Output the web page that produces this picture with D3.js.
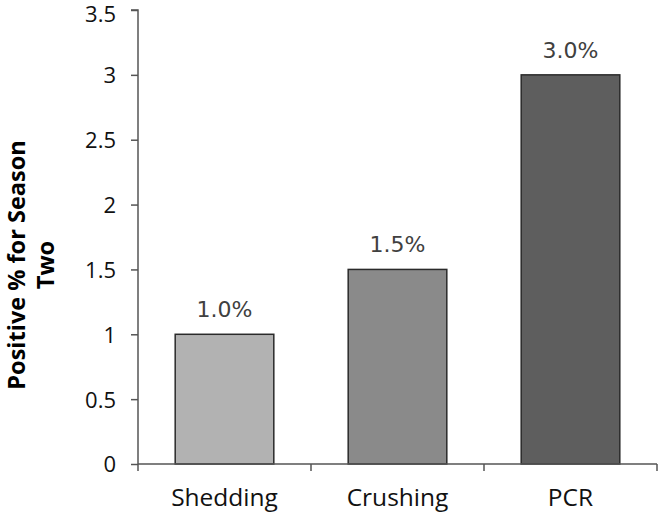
<!DOCTYPE html>
<html><head><meta charset="utf-8">
<script src="https://cdn.jsdelivr.net/npm/d3@7/dist/d3.min.js"></script>
<style>body{margin:0;background:#fff}svg{display:block}</style>
</head><body>
<svg id="c" width="661" height="515"></svg>
<script>
const categories = ["Shedding", "Crushing", "PCR"];
const values = [1.0, 1.5, 3.0];
const valueLabels = ["1.0%", "1.5%", "3.0%"];
const barColors = ["#b2b2b2", "#8a8a8a", "#5e5e5e"];
const yTicks = [0, 0.5, 1, 1.5, 2, 2.5, 3, 3.5];

(function () {
const svg = d3.select("#c");
const mLeft = 138, mRight = 657, mTop = 10, mBottom = 464;

const x = d3.scaleBand().domain(categories).range([mLeft, mRight]).paddingInner(0.43).paddingOuter(0.215);
const y = d3.scaleLinear().domain([0, 3.5]).range([mBottom, mTop]);

// y axis
const ya = svg.append("g").attr("transform", `translate(${mLeft},0)`)
  .call(d3.axisLeft(y).tickValues(yTicks).tickFormat(d => d3.format("")(d)).tickSize(7).tickPadding(15));
ya.select(".domain").attr("stroke", "#555").attr("stroke-width", 1.5).attr("d", `M-7,${mTop}H0V${mBottom}`);
ya.selectAll(".tick line").attr("stroke", "#555").attr("stroke-width", 1.5);
ya.selectAll(".tick text").attr("font-family", "Open Sans, sans-serif").attr("font-size", 22).attr("fill", "#111")
  .attr("dy", d => d === 3.5 ? "0.5em" : "0.36em");

// bars
svg.selectAll("rect.bar").data(categories).join("rect")
  .attr("class", "bar")
  .attr("x", d => x(d))
  .attr("width", x.bandwidth())
  .attr("y", (d, i) => y(values[i]))
  .attr("height", (d, i) => y(0) - y(values[i]))
  .attr("fill", (d, i) => barColors[i])
  .attr("stroke", "#2a2a2a").attr("stroke-width", 1.5);

// value labels
svg.selectAll("text.val").data(categories).join("text")
  .attr("class", "val")
  .attr("x", d => x(d) + x.bandwidth() / 2)
  .attr("y", (d, i) => y(values[i]) - 17)
  .attr("text-anchor", "middle")
  .attr("font-family", "DejaVu Sans, sans-serif").attr("font-size", 22)
  .attr("fill", "#404040")
  .text((d, i) => valueLabels[i]);

// x axis
const bounds = [mLeft, mLeft + (mRight - mLeft) / 3, mLeft + 2 * (mRight - mLeft) / 3, mRight];
const xa = svg.append("g");
xa.append("line").attr("x1", mLeft).attr("x2", mRight).attr("y1", mBottom).attr("y2", mBottom)
  .attr("stroke", "#555").attr("stroke-width", 1.5);
xa.selectAll("line.t").data(bounds).join("line").attr("class", "t")
  .attr("x1", d => d).attr("x2", d => d).attr("y1", mBottom).attr("y2", mBottom + 7)
  .attr("stroke", "#555").attr("stroke-width", 1.5);
xa.selectAll("text").data(categories).join("text")
  .attr("x", d => x(d) + x.bandwidth() / 2)
  .attr("y", 506)
  .attr("text-anchor", "middle")
  .attr("font-family", "Open Sans, sans-serif").attr("font-size", 24.5)
  .attr("fill", "#111")
  .text(d => d);

// y title
const t = svg.append("text").attr("transform", `translate(0,${(mTop + mBottom) / 2 + 28}) rotate(-90)`)
  .attr("text-anchor", "middle")
  .attr("font-family", "Open Sans, sans-serif").attr("font-weight", "bold").attr("font-size", 23.5)
  .attr("fill", "#000");
t.append("tspan").attr("x", 0).attr("y", 25).text("Positive % for Season");
t.append("tspan").attr("x", 0).attr("y", 54).text("Two");
})();
</script>
</body></html>
